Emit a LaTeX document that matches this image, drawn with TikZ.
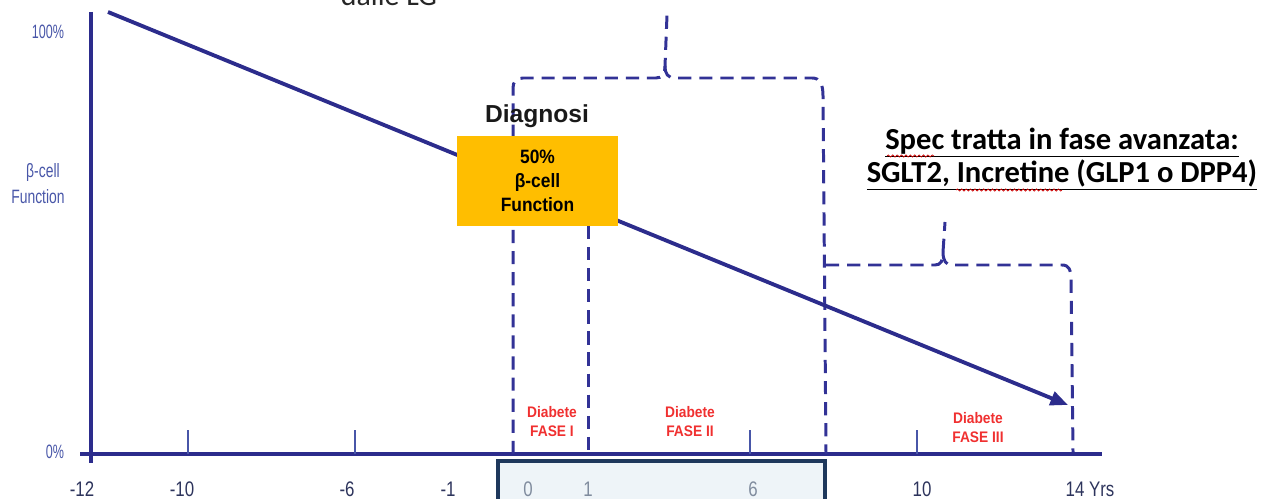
\documentclass[tikz,border=0pt]{standalone}
\usepackage{fontspec}
\setmainfont{Liberation Sans}
\newfontfamily\calibri{Carlito}
\usetikzlibrary{arrows.meta,decorations.pathmorphing}
\definecolor{chartblue}{RGB}{44,44,140}
\definecolor{dashblue}{RGB}{50,50,150}
\definecolor{labelblue}{RGB}{72,86,168}
\definecolor{ticktext}{RGB}{45,52,92}
\definecolor{tickgray}{RGB}{128,140,158}
\definecolor{diagorange}{RGB}{255,190,0}
\definecolor{phasered}{RGB}{240,48,48}
\definecolor{boxfill}{RGB}{238,244,248}
\definecolor{boxedge}{RGB}{30,56,92}
\newcommand\narrow[2]{\scalebox{#1}[1]{#2}}

\begin{document}
\begin{tikzpicture}[x=0.02cm,y=-0.02cm,
  axisline/.style={draw=chartblue,line width=2.2pt},
  tickline/.style={draw=labelblue,line width=0.6pt},
  dashline/.style={draw=dashblue,line width=1.7pt,dash pattern=on 7.5pt off 4.5pt},
  ticklab/.style={font=\fontsize{12}{14}\selectfont,text=ticktext},
  boxlab/.style={font=\fontsize{12}{14}\selectfont,text=tickgray},
  axislab/.style={font=\fontsize{11}{12}\selectfont,text=labelblue},
  phaselab/.style={font=\fontsize{8.7}{10.8}\selectfont\bfseries,text=phasered,align=center},
  squiggle/.style={draw=red!80!black,line width=0.4pt,decorate,decoration={snake,amplitude=0.6pt,segment length=2.5pt}}]
  \useasboundingbox (0,0) rectangle (1263,499);

  \filldraw[fill=boxfill,draw=boxedge,line width=2.4pt] (498,461) rectangle (825,515);

  \draw[axisline] (91,12) -- (91,463);
  \draw[axisline] (80,454) -- (1102,454);
  \foreach \x in {188,355,750,917}
    \draw[tickline] (\x,430) -- (\x,454);

  \node[axislab] (full) at (48,32) {\narrow{0.65}{100\%}};
  \node[axislab] (zero) at (55,452) {\narrow{0.65}{0\%}};
  \node[axislab] (bcell) at (43,173) {\narrow{0.72}{β-cell}};
  \node[axislab] (func) at (38,197) {\narrow{0.72}{Function}};

  \node[ticklab] (tm12) at (82,489) {\narrow{0.8}{-12}};
  \node[ticklab] (tm10) at (182,489) {\narrow{0.8}{-10}};
  \node[ticklab] (tm6) at (347,489) {\narrow{0.8}{-6}};
  \node[ticklab] (tm1) at (448,489) {\narrow{0.8}{-1}};
  \node[boxlab] (t0) at (528,489) {\narrow{0.8}{0}};
  \node[boxlab] (t1) at (588,489) {\narrow{0.8}{1}};
  \node[boxlab] (t6) at (753,489) {\narrow{0.8}{6}};
  \node[ticklab] (t10) at (922,489) {\narrow{0.8}{10}};
  \node[ticklab] (t14) at (1090,489) {\narrow{0.8}{14 Yrs}};

  \draw[dashline] (513,454) -- (513,88) .. controls (513,82) and (516,78) .. (523,78) -- (656,78) .. controls (662,78) and (665,74) .. (665,66) -- (667,15);
  \draw[dashline] (665,66) .. controls (665,74) and (668,78) .. (675,78) -- (812,78) .. controls (820,78) and (823,84) .. (823,96) -- (826,454);
  \draw[dashline] (588,226) -- (588,454);
  \draw[dashline] (826,265) -- (935,265) .. controls (941,265) and (943,261) .. (943,252) -- (945,222);
  \draw[dashline] (943,252) .. controls (943,261) and (946,265) .. (952,265) -- (1062,265) .. controls (1069,265) and (1071,270) .. (1071,280) -- (1073,452);

  \coordinate (start) at (108,12);
  \coordinate (tip) at (1068,405);
  \draw[chartblue,line width=2.2pt,-{Triangle[length=10pt,width=8pt]}] (start) -- (tip);

  \node[fill=diagorange,minimum width=3.22cm,minimum height=1.8cm,align=center,
        font=\fontsize{11}{13.5}\selectfont\bfseries] (diag) at (537.5,181)
        {\narrow{0.9}{50\%}\\\narrow{0.9}{β-cell}\\\narrow{0.9}{Function}};
  \node[font=\fontsize{14}{16}\selectfont\bfseries,text=black!90] (diagtitle) at (537,116) {Diagnosi};

  \node[phaselab] (fase1) at (552,422) {\narrow{0.9}{Diabete}\\\narrow{0.9}{FASE I}};
  \node[phaselab] (fase2) at (690,422) {\narrow{0.9}{Diabete}\\\narrow{0.9}{FASE II}};
  \node[phaselab] (fase3) at (978,428) {\narrow{0.9}{Diabete}\\\narrow{0.9}{FASE III}};

  \node[anchor=base,font=\calibri\fontsize{17}{17}\selectfont,text=black!85] (lg) at (389,6) {dalle LG};
  \node[align=center,font=\calibri\bfseries\fontsize{17.4}{17.4}\selectfont] (spec) at (1062,159)
        {\underline{Spec tratta in fase avanzata:}\\\underline{SGLT2, Incretine (GLP1 o DPP4)}};
  \draw[squiggle] (887,156) -- (934,156);
  \draw[squiggle] (956,190) -- (1062,190);
\end{tikzpicture}
\end{document}
